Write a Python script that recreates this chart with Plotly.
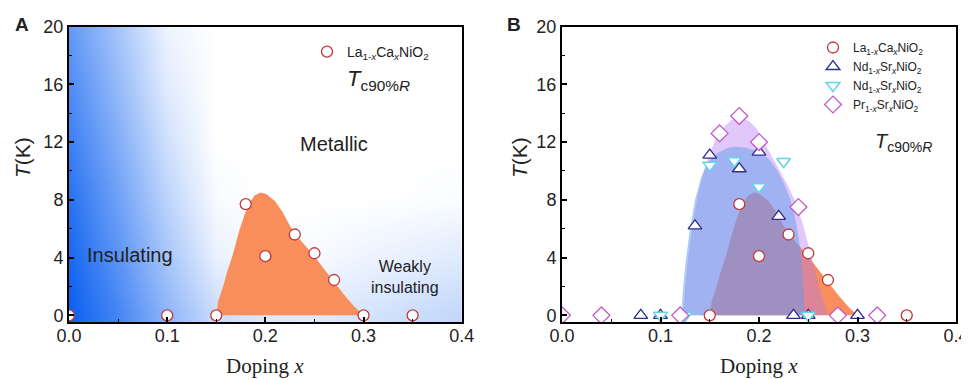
import plotly.graph_objects as go

# ---------------- data ----------------
# Panel A / B : La(1-x)Ca(x)NiO2, Tc90%R
la_x_a = [0.0, 0.10, 0.15, 0.18, 0.20, 0.23, 0.25, 0.27, 0.30, 0.35]
la_t_a = [0.0, 0.0, 0.0, 7.7, 4.1, 5.6, 4.3, 2.45, 0.0, 0.0]

la_x_b = [0.15, 0.18, 0.20, 0.23, 0.25, 0.27, 0.35]
la_t_b = [0.0, 7.7, 4.1, 5.6, 4.3, 2.45, 0.0]

# Nd(1-x)Sr(x)NiO2 (up triangles)
nd1_x = [0.08, 0.10, 0.135, 0.15, 0.18, 0.20, 0.22, 0.235, 0.25, 0.30]
nd1_t = [0.0, 0.0, 6.2, 11.1, 10.15, 11.3, 6.85, 0.0, 0.0, 0.0]

# Nd(1-x)Sr(x)NiO2 (down triangles)
nd2_x = [0.10, 0.125, 0.15, 0.175, 0.20, 0.225, 0.25]
nd2_t = [0.0, 0.0, 10.4, 10.7, 8.9, 10.65, 0.0]

# Pr(1-x)Sr(x)NiO2 (diamonds)
pr_x = [0.0, 0.04, 0.12, 0.16, 0.18, 0.20, 0.24, 0.28, 0.32]
pr_t = [0.0, 0.0, 0.0, 12.6, 13.8, 12.0, 7.5, 0.0, 0.0]

# superconducting domes (boundaries)
la_dome_x = [0.150, 0.152, 0.157, 0.161, 0.166, 0.170, 0.174, 0.179, 0.184, 0.189,
             0.195, 0.201, 0.210, 0.218, 0.225, 0.232, 0.240, 0.250, 0.260, 0.270,
             0.280, 0.290, 0.300]
la_dome_t = [0.0, 1.0, 2.0, 3.0, 4.0, 5.0, 6.0, 7.0, 7.8, 8.3,
             8.5, 8.4, 7.9, 7.1, 6.2, 5.5, 4.9, 4.1, 3.2, 2.3,
             1.45, 0.65, 0.0]

nd_dome_x = [0.121, 0.123, 0.126, 0.130, 0.135, 0.141, 0.148, 0.158, 0.168, 0.177,
             0.188, 0.200, 0.210, 0.218, 0.225, 0.231, 0.236, 0.240, 0.243, 0.245, 0.246]
nd_dome_t = [0.0, 2.0, 4.0, 6.0, 8.0, 9.5, 10.6, 11.25, 11.58, 11.68,
             11.6, 11.3, 10.85, 10.1, 9.2, 8.2, 7.0, 5.5, 4.0, 2.0, 0.0]

pr_dome_x = [0.123, 0.125, 0.128, 0.132, 0.137, 0.143, 0.149, 0.156, 0.164, 0.172,
             0.180, 0.190, 0.198, 0.205, 0.213, 0.222, 0.230, 0.238, 0.245, 0.251,
             0.257, 0.263, 0.270]
pr_dome_t = [0.0, 2.0, 4.0, 6.0, 8.0, 9.8, 11.0, 12.2, 13.0, 13.55,
             13.75, 13.45, 12.9, 12.0, 11.0, 9.9, 8.9, 7.7, 6.2, 4.6,
             3.0, 1.5, 0.0]

# background shading for panel A (insulating -> metallic)
bg_x = [0.0, 0.05, 0.10, 0.15, 0.20, 0.25, 0.30, 0.35, 0.40]
bg_y = [0, 4, 8, 12, 16, 20]
bg_z = [
    [1.00, 0.76, 0.46, 0.22, 0.14, 0.13, 0.17, 0.21, 0.25],
    [0.94, 0.67, 0.36, 0.09, 0.02, 0.03, 0.07, 0.10, 0.13],
    [0.88, 0.59, 0.27, 0.03, 0.00, 0.00, 0.00, 0.01, 0.02],
    [0.80, 0.51, 0.19, 0.00, 0.00, 0.00, 0.00, 0.00, 0.00],
    [0.72, 0.43, 0.12, 0.00, 0.00, 0.00, 0.00, 0.00, 0.00],
    [0.64, 0.36, 0.07, 0.00, 0.00, 0.00, 0.00, 0.00, 0.00],
]

x_ticks = [0.0, 0.1, 0.2, 0.3, 0.4]
x_ticklabels = ["0.0", "0.1", "0.2", "0.3", "0.4"]
y_ticks = [0, 4, 8, 12, 16, 20]

# ---------------- style ----------------
SANS = "Liberation Sans, Arial, sans-serif"
SERIF = "Liberation Serif, Times New Roman, serif"
PAGE_OFF = 8            # default body margin of the html page
W, H = 969 - PAGE_OFF, 379 - PAGE_OFF

C_LA = "#c0393b"
C_ND1 = "#2e2e8e"
C_ND2 = "#5ed6e8"
C_PR = "#c55ac9"
ORANGE = "#f78e5c"

LA_NAME = "La<sub>1-<i>x</i></sub>Ca<sub><i>x</i></sub>NiO<sub>2</sub>"
ND_NAME = "Nd<sub>1-<i>x</i></sub>Sr<sub><i>x</i></sub>NiO<sub>2</sub>"
PR_NAME = "Pr<sub>1-<i>x</i></sub>Sr<sub><i>x</i></sub>NiO<sub>2</sub>"

def px(x): return (x - PAGE_OFF) / W
def py(y): return 1 - (y - PAGE_OFF) / H

fig = go.Figure()

# ---- panel A ----
fig.add_trace(go.Heatmap(x=bg_x, y=bg_y, z=bg_z, zmin=0, zmax=1, zsmooth="best",
                         colorscale=[[0, "#ffffff"], [1, "#0a5ff0"]], showscale=False,
                         hoverinfo="skip", xaxis="x", yaxis="y"))
fig.add_trace(go.Scatter(x=la_dome_x, y=la_dome_t, mode="lines", fill="toself",
                         fillcolor=ORANGE, line=dict(width=0, color=ORANGE),
                         showlegend=False, hoverinfo="skip", xaxis="x", yaxis="y"))
fig.add_trace(go.Scatter(x=la_x_a, y=la_t_a, mode="markers", name=LA_NAME,
                         marker=dict(symbol="circle", size=11, color="white",
                                     line=dict(color=C_LA, width=1.3)),
                         legend="legend", xaxis="x", yaxis="y"))

# ---- panel B ----
fig.add_trace(go.Scatter(x=la_dome_x, y=la_dome_t, mode="lines", fill="toself",
                         fillcolor=ORANGE, line=dict(width=0, color=ORANGE),
                         showlegend=False, hoverinfo="skip", xaxis="x2", yaxis="y2"))
fig.add_trace(go.Scatter(x=pr_dome_x, y=pr_dome_t, mode="lines", fill="toself",
                         fillcolor="rgba(180,117,242,0.40)", line=dict(width=0),
                         showlegend=False, hoverinfo="skip", xaxis="x2", yaxis="y2"))
fig.add_trace(go.Scatter(x=nd_dome_x, y=nd_dome_t, mode="lines", fill="toself",
                         fillcolor="rgba(95,156,234,0.50)", line=dict(width=0),
                         showlegend=False, hoverinfo="skip", xaxis="x2", yaxis="y2"))
fig.add_trace(go.Scatter(x=la_x_b, y=la_t_b, mode="markers", name=LA_NAME,
                         marker=dict(symbol="circle", size=11, color="white",
                                     line=dict(color=C_LA, width=1.3)),
                         legend="legend2", xaxis="x2", yaxis="y2"))
fig.add_trace(go.Scatter(x=nd1_x, y=nd1_t, mode="markers", name=ND_NAME,
                         marker=dict(symbol="triangle-up", size=12, color="white",
                                     line=dict(color=C_ND1, width=1.3)),
                         legend="legend2", xaxis="x2", yaxis="y2"))
fig.add_trace(go.Scatter(x=nd2_x, y=nd2_t, mode="markers", name=ND_NAME,
                         marker=dict(symbol="triangle-down", size=12, color="white",
                                     line=dict(color=C_ND2, width=1.5)),
                         legend="legend2", xaxis="x2", yaxis="y2"))
fig.add_trace(go.Scatter(x=pr_x, y=pr_t, mode="markers", name=PR_NAME,
                         marker=dict(symbol="diamond", size=13, color="white",
                                     line=dict(color=C_PR, width=1.3)),
                         legend="legend2", xaxis="x2", yaxis="y2"))

# ---------------- axes ----------------
ydom = [py(322.3), py(26.5)]
xdomA = [px(69), px(461.7)]
xdomB = [px(562), px(956)]

def xax(dom, anchor):
    return dict(domain=dom, anchor=anchor, range=[0, 0.4], tickvals=x_ticks,
                ticktext=x_ticklabels, ticks="inside", ticklen=5, tickwidth=1.5,
                tickcolor="black", showline=True, linewidth=2, linecolor="black",
                mirror=True, showgrid=False, zeroline=False, automargin=False,
                ticklabelstandoff=-4,
                tickfont=dict(family=SANS, size=18, color="#222"),
                minor=dict(dtick=0.05, ticks="inside", ticklen=3, tickwidth=1.2,
                           tickcolor="black", showgrid=False))

def yax(anchor):
    return dict(domain=ydom, anchor=anchor, range=[-0.48, 20], tickvals=y_ticks,
                ticks="inside", ticklen=5, tickwidth=1.5, tickcolor="black",
                showline=True, linewidth=2, linecolor="black", mirror=True,
                showgrid=False, zeroline=False, automargin=False,
                tickfont=dict(family=SANS, size=18, color="#222"),
                minor=dict(dtick=2, ticks="inside", ticklen=3, tickwidth=1.2,
                           tickcolor="black", showgrid=False))

ann = []
def label(text, x, y, size, family=SANS, angle=0, ref="paper"):
    if ref == "paper":
        x, y = px(x), py(y)
        xr, yr = "paper", "paper"
    else:
        xr, yr = ref
    ann.append(dict(text=text, x=x, y=y, xref=xr, yref=yr, xanchor="center",
                    yanchor="middle", textangle=angle, showarrow=False,
                    font=dict(family=family, size=size, color="#222")))

# panel letters
label("<b>A</b>", 21.5, 24.5, 19)
label("<b>B</b>", 513.5, 24.5, 19)
# axis titles
for xc in [(69 + 461.7) / 2, (562 + 956) / 2]:
    label("Doping <i>x</i>", xc, 366, 21, family=SERIF)
for xc in [23, 520]:
    label("<i>T</i>(K)", xc, 158, 21, angle=-90)
# region labels panel A
label("Insulating", 0.0626, 4.2, 20, ref=("x", "y"))
label("Metallic", 0.2697, 11.85, 20, ref=("x", "y"))
label("Weakly<br>insulating", 0.342, 2.65, 16, ref=("x", "y"))
# Tc90%R labels
label("<i>T</i><sub>c90%<i>R</i></sub>", 378, 80, 22)
label("<i>T</i><sub>c90%<i>R</i></sub>", 903, 142, 20)

fig.update_layout(
    width=W, height=H, margin=dict(l=0, r=0, t=0, b=0),
    paper_bgcolor="white", plot_bgcolor="white",
    xaxis=xax(xdomA, "y"), yaxis=yax("x"),
    xaxis2=xax(xdomB, "y2"), yaxis2=yax("x2"),
    legend=dict(x=px(328 - 21), y=py(36), xanchor="left", yanchor="top",
                bgcolor="rgba(0,0,0,0)", font=dict(family=SANS, size=14, color="#222")),
    legend2=dict(x=px(834 - 21), y=py(33), xanchor="left", yanchor="top",
                 bgcolor="rgba(0,0,0,0)", font=dict(family=SANS, size=12, color="#222"),
                 tracegroupgap=0),
    annotations=ann,
)

fig.write_html("out.html")
